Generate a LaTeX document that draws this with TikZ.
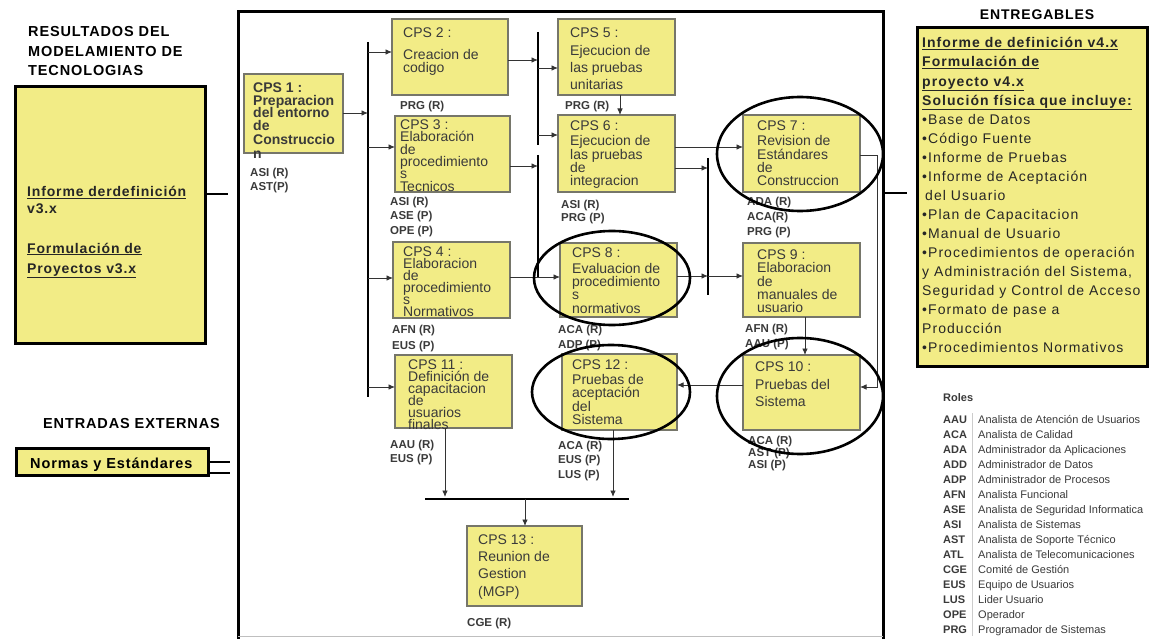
\documentclass[tikz,border=0pt]{standalone}
\usepackage{fontspec}
\setmainfont{Liberation Sans}
\newfontfamily\lsA[LetterSpace=6]{Liberation Sans}
\newfontfamily\lsB[LetterSpace=7.5]{Liberation Sans}
\usetikzlibrary{arrows.meta}
\definecolor{byel}{HTML}{F2EC86}
\definecolor{bord}{HTML}{76766A}
\definecolor{txt}{HTML}{3A3A3A}
\definecolor{lin}{HTML}{333333}
\newcommand\cpsbox[5]{\node[cps, minimum width={#4-#2}, minimum height={#5-#3}] (#1) at (#2,#3) {};}
\newcommand\txtlines[4]{\foreach \yy/\lt [count=\k] in {#4} {\node[#2] (#3-\k) at (#1,\yy) {\lt};}}
\newcommand\tightfont[1]{\fontsize{14}{#1}\selectfont\lineskiplimit=-30pt\lineskip=0pt}
\begin{document}
\begin{tikzpicture}[x=1pt,y=-1pt,
  cps/.style={draw=bord, fill=byel, line width=1.3pt, anchor=north west, inner sep=0pt, outer sep=0pt},
  bigbox/.style={draw=black, fill=byel, line width=3pt, anchor=north west, inner sep=0pt, outer sep=0pt},
  ct/.style={anchor=base west, inner sep=0pt, text=txt, font=\fontsize{14}{14}\selectfont},
  ctm/.style={anchor=north west, inner sep=0pt, align=left, text=txt},
  ctb/.style={anchor=base west, inner sep=0pt, text=txt, font=\bfseries\fontsize{14}{14}\selectfont},
  rl/.style={anchor=base west, inner sep=0pt, text=txt, font=\bfseries\fontsize{11.5}{12}\selectfont},
  hd/.style={anchor=base west, inner sep=0pt, text=black, font=\lsA\bfseries\fontsize{14.5}{16}\selectfont},
  lbt/.style={anchor=base west, inner sep=0pt, text=black!85, font=\lsA\bfseries\fontsize{14}{16}\selectfont},
  rbb/.style={anchor=base west, inner sep=0pt, text=black!85, font=\lsB\bfseries\fontsize{14}{16}\selectfont},
  rbt/.style={anchor=base west, inner sep=0pt, text=black!85, font=\lsB\fontsize{14}{16}\selectfont},
  rab/.style={anchor=base west, inner sep=0pt, text=txt, font=\bfseries\fontsize{11}{12}\selectfont},
  rde/.style={anchor=base west, inner sep=0pt, text=txt, font=\fontsize{11}{12}\selectfont},
  arr/.style={draw=lin, line width=0.9pt, -{Latex[length=6.5pt,width=5.5pt]}},
  busl/.style={draw=black, line width=1.8pt},
  thk/.style={draw=black, line width=2.5pt},
  oval/.style={draw=black, line width=2.6pt}
]
\useasboundingbox (0,0) rectangle (1151,639);
\fill[white] (0,0) rectangle (1151,639);

% main frame
\draw[line width=3pt] (238,639) -- (238,12) -- (883,12) -- (883,639);
\draw[black!25, line width=0.8pt] (238,636) -- (883,636);

% left side
\txtlines{28}{hd}{ttl}{37/RESULTADOS DEL,57/MODELAMIENTO DE,76/TECNOLOGIAS}
\node[bigbox, minimum width=190, minimum height=256] (lbox) at (15,87) {};
\txtlines{27}{lbt}{lt}{197/\underline{Informe derdefinición},214/v3.x,253/\underline{Formulación de},273/\underline{Proyectos v3.x}}
\coordinate (lin1) at (228,194);
\draw[thk] (lbox.east |- lin1) -- (lin1);

\node[hd] (ent) at (43,428) {ENTRADAS EXTERNAS};
\node[bigbox, minimum width=192, minimum height=27] (nbox) at (16,448) {};
\node[hd] (ntext) at (30,468) {Normas y Estándares};
\coordinate (n1) at (230,462);
\coordinate (n2) at (230,473);
\draw[thk] (nbox.east |- n1) -- (n1);
\draw[thk] (nbox.east |- n2) -- (n2);

% right side
\node[hd, anchor=base, font=\lsA\bfseries\fontsize{14}{16}\selectfont] (entr) at (1037,20) {ENTREGABLES};
\node[bigbox, minimum width=230, minimum height=338] (rbox) at (917,28) {};
\txtlines{922}{rbb}{rb}{48/\underline{Informe de definición v4.x},67/\underline{Formulación de},86.1/\underline{proyecto v4.x},105.1/\underline{Solución física que incluye:}}
\txtlines{922}{rbt}{rt}{124.2/•Base de Datos,143.2/•Código Fuente,162.2/•Informe de Pruebas,181.3/•Informe de Aceptación,219.4/•Plan de Capacitacion,238.4/•Manual de Usuario,257.4/•Procedimientos de operación,276.5/{y Administración del Sistema,},295.5/Seguridad y Control de Acceso,314.6/•Formato de pase a,333.6/Producción,352.6/•Procedimientos Normativos}
\node[rbt] (rt-x) at (925,200.3) {del Usuario};
\coordinate (fr) at (883,193);
\coordinate (r1) at (907,193);
\draw[thk] (fr) -- (r1);

% roles
\node[rab] (roles) at (943,401) {Roles};
\draw[black!20, line width=0.6pt] (972,413) -- (972,636);
\foreach \ab/\de [count=\k] in {AAU/Analista de Atención de Usuarios,ACA/Analista de Calidad,ADA/Administrador da Aplicaciones,ADD/Administrador de Datos,ADP/Administrador de Procesos,AFN/Analista Funcional,ASE/Analista de Seguridad Informatica,ASI/Analista de Sistemas,AST/Analista de Soporte Técnico,ATL/Analista de Telecomunicaciones,CGE/Comité de Gestión,EUS/Equipo de Usuarios,LUS/Lider Usuario,OPE/Operador,PRG/Programador de Sistemas}
{
  \node[rab] (ra-\k) at (943,408.5+15*\k) {\ab};
  \node[rde] (rd-\k) at (978,408.5+15*\k) {\de};
}

% CPS boxes
\cpsbox{c1}{244}{74}{343}{153}
\cpsbox{c2}{392}{19}{508}{95}
\cpsbox{c3}{395}{116}{510}{192}
\cpsbox{c4}{393}{242}{510}{318}
\cpsbox{c11}{395}{355}{512}{428}
\cpsbox{c5}{558}{19}{675}{95}
\cpsbox{c6}{558}{115}{675}{192}
\cpsbox{c7}{743}{115}{860}{192}
\cpsbox{c8}{560}{243}{677}{317}
\cpsbox{c9}{743}{243}{860}{317}
\cpsbox{c10}{743}{355}{860}{430}
\cpsbox{c12}{562}{354}{677}{430}
\cpsbox{c13}{467}{526}{582}{606}

\txtlines{253}{ctb}{t1}{93/CPS 1 :,105.5/Preparacion,118/del entorno,130.5/de,145/Construccio,158.5/n}
\txtlines{403}{ct}{t2}{38/CPS 2 :,59.5/Creacion de,72.5/codigo}
\node[ctm, font=\tightfont{12.3}] (t3) at (400,118.5) {\rule{0pt}{11pt}CPS 3 :\\Elaboración\\de\\procedimiento\\s\\Tecnicos};
\node[ctm, font=\tightfont{12.1}] (t4) at (403,245) {\rule{0pt}{11pt}CPS 4 :\\Elaboracion\\de\\procedimiento\\s\\Normativos};
\node[ctm, font=\tightfont{12}] (t11) at (408,358.5) {\rule{0pt}{11pt}CPS 11 :\\Definición de\\capacitacion\\de\\usuarios\\finales};
\txtlines{570}{ct}{t5}{38/CPS 5 :,56/Ejecucion de,73/las pruebas,89.5/unitarias}
\txtlines{570}{ct}{t6}{131/CPS 6 :,146/Ejecucion de,159.5/las pruebas,173/de,186/integracion}
\txtlines{757}{ct}{t7}{131/CPS 7 :,146/Revision de,159.5/Estándares,173/de,186/Construccion}
\txtlines{572}{ct}{t8}{258/CPS 8 :,273/Evaluacion de,286/procedimiento,299.5/s,313/normativos}
\txtlines{757}{ct}{t9}{259.5/CPS 9 :,272.5/Elaboracion,286.5/de,299.5/manuales de,312.5/usuario}
\txtlines{755}{ct}{t10}{371.5/CPS 10 :,389.5/Pruebas del,406.5/Sistema}
\txtlines{572}{ct}{t12}{369.5/CPS 12 :,384.5/Pruebas de,397.5/aceptación,411.5/del,424.5/Sistema}
\txtlines{478}{ct}{t13}{544.5/CPS 13 :,561.5/Reunion de,578.5/Gestion,596.5/(MGP)}

% role labels
\txtlines{250}{rl}{r1}{177/ASI (R),191/AST(P)}
\txtlines{400}{rl}{r2}{110/PRG (R)}
\txtlines{390}{rl}{r3}{206/ASI  (R),220/ASE (P),234/OPE (P)}
\txtlines{392}{rl}{r4}{333/AFN (R),349/EUS (P)}
\txtlines{390}{rl}{r11}{448/AAU (R),462/EUS  (P)}
\txtlines{565}{rl}{r5}{110/PRG (R)}
\txtlines{561}{rl}{r6}{208/ASI  (R),222/PRG (P)}
\txtlines{747}{rl}{r7}{206/ADA (R),221/ACA(R),236/PRG (P)}
\txtlines{558}{rl}{r8}{333/ACA (R),348/ADP (P)}
\txtlines{745}{rl}{r9}{332/AFN (R),347/AAU (P)}
\txtlines{748}{rl}{r10}{444/ACA (R),456.5/AST  (P),468/ASI   (P)}
\txtlines{558}{rl}{r12}{449/ACA (R),463/EUS (P),478/LUS (P)}
\txtlines{467}{rl}{r13}{626/CGE (R)}

% connectors
\draw[busl] (368,42) -- (368,397);
\draw[arr] (c1.east |- 0,113) -- (368,113);
\draw[arr] (368,52) -- (c2.west |- 0,52);
\draw[arr] (368,147) -- (c3.west |- 0,147);
\draw[arr] (368,278) -- (c4.west |- 0,278);
\draw[arr] (368,387) -- (c11.west |- 0,387);
\draw[busl] (538,32) -- (538,145);
\draw[busl] (538,155) -- (538,278);
\draw[arr] (c2.east |- 0,60) -- (538,60);
\draw[arr] (c3.east |- 0,166) -- (538,166);
\draw[arr] (538,68) -- (c5.west |- 0,68);
\draw[arr] (538,135) -- (c6.west |- 0,135);
\draw[arr] (c4.east |- 0,277) -- (c8.west |- 0,277);
\draw[arr] (c5.south -| 620,0) -- (c6.north -| 620,0);
\draw[arr] (c6.east |- 0,147) -- (c7.west |- 0,147);
\draw[arr] (c6.east |- 0,168) -- (708,168);
\draw[busl] (708,158) -- (708,295);
\draw[arr] (c8.east |- 0,276) -- (708,276);
\draw[arr] (708,276) -- (c9.west |- 0,276);
\draw[arr] (c9.south -| 805,0) -- (c10.north -| 805,0);
\draw[arr] (c7.east |- 0,155) -- (877,155) -- (877,387) -- (c10.east |- 0,387);
\draw[arr] (c10.west |- 0,385) -- (c12.east |- 0,385);
\draw[arr] (c11.south -| 445,0) -- (445,497);
\draw[arr] (c12.south -| 613,0) -- (613,497);
\draw[busl, line width=1.5pt] (425,499) -- (629,499);
\draw[arr] (525,499) -- (c13.north -| 525,0);

% ellipses
\draw[oval] (800,154) ellipse [x radius=83, y radius=57];
\draw[oval] (612,278) ellipse [x radius=78, y radius=47];
\draw[oval] (800,396) ellipse [x radius=83, y radius=58];
\draw[oval] (611,392) ellipse [x radius=79, y radius=47];
\end{tikzpicture}
\end{document}
